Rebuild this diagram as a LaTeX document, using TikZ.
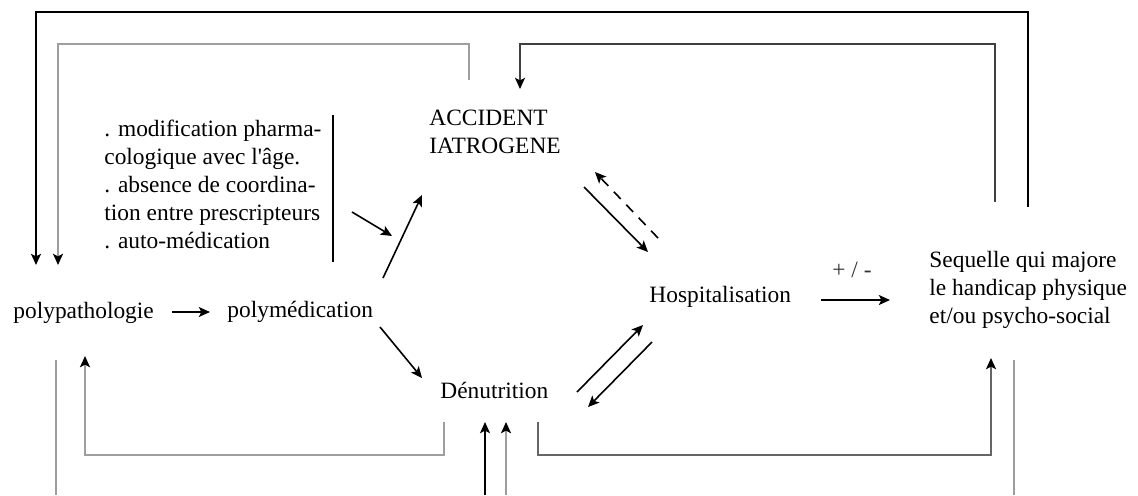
\documentclass[tikz,border=0pt]{standalone}
\usepackage{fontspec}
\setmainfont{Liberation Serif}[Ligatures=TeXOff]
\usetikzlibrary{arrows.meta}
\begin{document}
\begin{tikzpicture}[x=0.5pt,y=-0.5pt,
  txt/.style={inner sep=0pt, font=\fontsize{11.7}{14}\selectfont},
  blk/.style={draw=black, line width=0.8pt},
  dk/.style={draw=black!75, line width=0.85pt},
  mid/.style={draw=black!60, line width=0.9pt},
  gry/.style={draw=black!38, line width=1pt},
  tip/.style={-{Stealth[length=5.6pt,width=5pt,inset=1.3pt,color=black]}},
  dsh/.style={dash pattern=on 5pt off 4pt},
]
\useasboundingbox (0,0) rectangle (1138,495);

% boxes of text
\node[txt, anchor=base west] (polypath) at (13,318) {polypathologie};
\node[txt, anchor=base west] (polymed) at (227,317) {polymédication};
\node[txt, anchor=base west] (denut) at (440,398) {Dénutrition};
\node[txt, anchor=base west] (hosp) at (649,302) {Hospitalisation};
\node[txt, anchor=base west, text=black!80] (pm) at (832,277) {+ / -};
\node[txt, anchor=north west, align=left] (causes) at (104,120)
  {. modification pharma-\\cologique avec l'âge.\\. absence de coordina-\\tion entre prescripteurs\\. auto-médication};
\node[txt, anchor=north west, align=left] (accident) at (429,109.5) {ACCIDENT\\IATROGENE};
\node[txt, anchor=north west, align=left] (sequelle) at (929,251)
  {Sequelle qui majore\\le handicap physique\\et/ou psycho-social};

% connector ends
\coordinate (pp-out) at (172,312);  \coordinate (pm-in) at (210,312);
\coordinate (pm-up) at (383,278);   \coordinate (acc-in) at (422,195);
\coordinate (ca-out) at (352,212);  \coordinate (ca-in) at (392,236);
\coordinate (bar-top) at (333,115); \coordinate (bar-bot) at (333,262);
\coordinate (pm-dn) at (380,327);   \coordinate (den-in) at (422,378);
\coordinate (acc-out) at (584,187); \coordinate (hos-in1) at (648,252);
\coordinate (hos-out1) at (658,238);\coordinate (acc-in2) at (595,172);
\coordinate (den-out) at (577,392); \coordinate (hos-in2) at (643,325);
\coordinate (hos-out2) at (652,342);\coordinate (den-in2) at (588,407);
\coordinate (hos-out3) at (821,300);\coordinate (seq-in) at (890,300);

% direct links
\draw[blk,tip] (pp-out) -- (pm-in);
\draw[blk,tip] (pm-up) -- (acc-in);
\draw[blk,tip] (ca-out) -- (ca-in);
\draw[blk] (bar-top) -- (bar-bot);
\draw[blk,tip] (pm-dn) -- (den-in);
\draw[blk,tip] (acc-out) -- (hos-in1);
\draw[blk,tip,dsh] (hos-out1) -- (acc-in2);
\draw[blk,tip] (den-out) -- (hos-in2);
\draw[blk,tip] (hos-out2) -- (den-in2);
\draw[blk,tip] (hos-out3) -- (seq-in);

% feedback loops along the top
\coordinate (seq-top1) at (1028,207); \coordinate (pp-top1) at (36,265);
\coordinate (acc-top) at (469,80);    \coordinate (pp-top2) at (58,265);
\coordinate (seq-top2) at (995,202);  \coordinate (acc-top2) at (520,89);
\draw[blk,tip] (seq-top1) |- (36,12) -- (pp-top1);
\draw[gry,tip] (acc-top) |- (58,44) -- (pp-top2);
\draw[dk,tip] (seq-top2) |- (520,44) -- (acc-top2);

% feedback loops along the bottom
\coordinate (den-bl) at (444,422);  \coordinate (pp-bot) at (85,356);
\coordinate (den-br) at (538,422);  \coordinate (seq-bot) at (991,358);
\draw[gry,tip] (den-bl) |- (85,455) -- (pp-bot);
\draw[mid,tip] (den-br) |- (991,455) -- (seq-bot);

% lines leaving the frame at the bottom
\coordinate (pp-down) at (56,360);   \coordinate (seq-down) at (1014,360);
\coordinate (den-up1) at (485,422);  \coordinate (den-up2) at (506,422);
\draw[gry] (pp-down) -- (56,495);
\draw[gry] (seq-down) -- (1014,495);
\draw[blk,tip] (485,495) -- (den-up1);
\draw[gry,tip] (506,495) -- (den-up2);
\end{tikzpicture}
\end{document}
